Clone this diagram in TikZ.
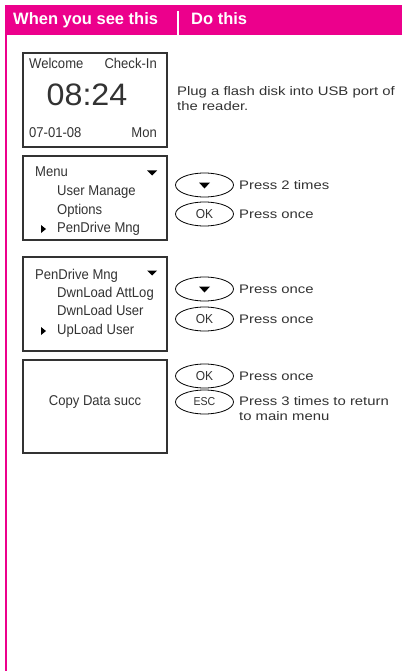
\documentclass[tikz,border=0pt]{standalone}
\usepackage{fontspec}
\setmainfont{Liberation Sans}
\newfontfamily\condfont[FakeStretch=0.92]{Liberation Sans}
\newfontfamily\clockfont[FakeStretch=1.04]{Liberation Sans}
\newfontfamily\widefont[FakeStretch=1.2]{Liberation Sans}
\usetikzlibrary{shapes.geometric,calc}
\definecolor{mag}{HTML}{EC008C}
\definecolor{ink}{HTML}{333333}
\begin{document}
\begin{tikzpicture}[x=1pt,y=-1pt,
  lcd/.style={draw=ink,line width=1.1pt},
  disp/.style={inner sep=0pt,text=ink,font=\condfont\fontsize{14.2}{16}\selectfont},
  head/.style={inner sep=0pt,text=white,font=\bfseries\fontsize{16.5}{18}\selectfont,anchor=mid west},
  instr/.style={inner sep=0pt,text=ink,anchor=west,align=left,font=\widefont\fontsize{12.4}{15.5}\selectfont},
  btn/.style={draw=black,line width=0.8pt,ellipse,minimum width=58pt,minimum height=24pt,inner sep=0pt,text=ink,font=\condfont\fontsize{13}{15}\selectfont}]
\useasboundingbox (0,0) rectangle (402,671);
\fill[white] (0,0) rectangle (402,671);
% header
\fill[mag] (5,5) rectangle (402,35);
\draw[white,line width=1.6pt] (178,11) -- (178,35);
\draw[mag,line width=1.6pt] (5.8,35) -- (5.8,671);
\node[head] (h1) at (13,22) {When you see this};
\node[head] (h2) at (191,22) {Do this};
% box 1
\draw[lcd] (23,53) rectangle (167,147);
\node[disp,anchor=mid west] (t1a) at (29,66) {Welcome};
\node[disp,anchor=mid east] (t1b) at (157,66) {Check-In};
\node[disp,anchor=mid,font=\clockfont\fontsize{31}{33}\selectfont] (t1c) at (87,103) {08:24};
\node[disp,anchor=mid west] (t1d) at (29,135) {07-01-08};
\node[disp,anchor=mid east] (t1e) at (157,135) {Mon};
\node[instr] (i1) at (177,98.5) {Plug a flash disk into USB port of\\the reader.};
% box 2
\draw[lcd] (23,156) rectangle (167,240);
\node[disp,anchor=mid west] (t2a) at (35,174) {Menu};
\node[disp,anchor=mid west] (t2b) at (57,193) {User Manage};
\node[disp,anchor=mid west] (t2c) at (57,212) {Options};
\node[disp,anchor=mid west] (t2d) at (57,230) {PenDrive Mng};
\fill[black] (147,170.5) -- (157,170.5) -- (152,175.5) -- cycle;
\fill[black] (41,225) -- (46,229) -- (41,233) -- cycle;
% box 3
\draw[lcd] (23,257) rectangle (167,351);
\node[disp,anchor=mid west] (t3a) at (35,277) {PenDrive Mng};
\node[disp,anchor=mid west] (t3b) at (57,295) {DwnLoad AttLog};
\node[disp,anchor=mid west] (t3c) at (57,313) {DwnLoad User};
\node[disp,anchor=mid west] (t3d) at (57,332) {UpLoad User};
\fill[black] (147,270.5) -- (157,270.5) -- (152,275.5) -- cycle;
\fill[black] (41,327) -- (46,331) -- (41,335) -- cycle;
% box 4
\draw[lcd] (23,360) rectangle (167,453);
\node[disp,anchor=mid] (t4a) at (95,403) {Copy Data succ};
% buttons
\node[btn] (b1) at (204.5,185) {};
\fill[black] ($(b1.center)+(-5.5,-2.5)$) -- ($(b1.center)+(5.5,-2.5)$) -- ($(b1.center)+(0,3.5)$) -- cycle;
\node[instr] (p1) at (239,185) {Press 2 times};
\node[btn] (b2) at (204.5,214) {OK};
\node[instr] (p2) at (239,214) {Press once};
\node[btn] (b3) at (204.5,289) {};
\fill[black] ($(b3.center)+(-5.5,-2.5)$) -- ($(b3.center)+(5.5,-2.5)$) -- ($(b3.center)+(0,3.5)$) -- cycle;
\node[instr] (p3) at (239,289) {Press once};
\node[btn] (b4) at (204.5,319) {OK};
\node[instr] (p4) at (239,319) {Press once};
\node[btn] (b5) at (204.5,376) {OK};
\node[instr] (p5) at (239,376) {Press once};
\node[btn,font=\condfont\fontsize{11.5}{13}\selectfont] (b6) at (204.5,402) {ESC};
\node[instr,anchor=north west] (p6) at (239,396) {Press 3 times to return\\to main menu};
\end{tikzpicture}
\end{document}
